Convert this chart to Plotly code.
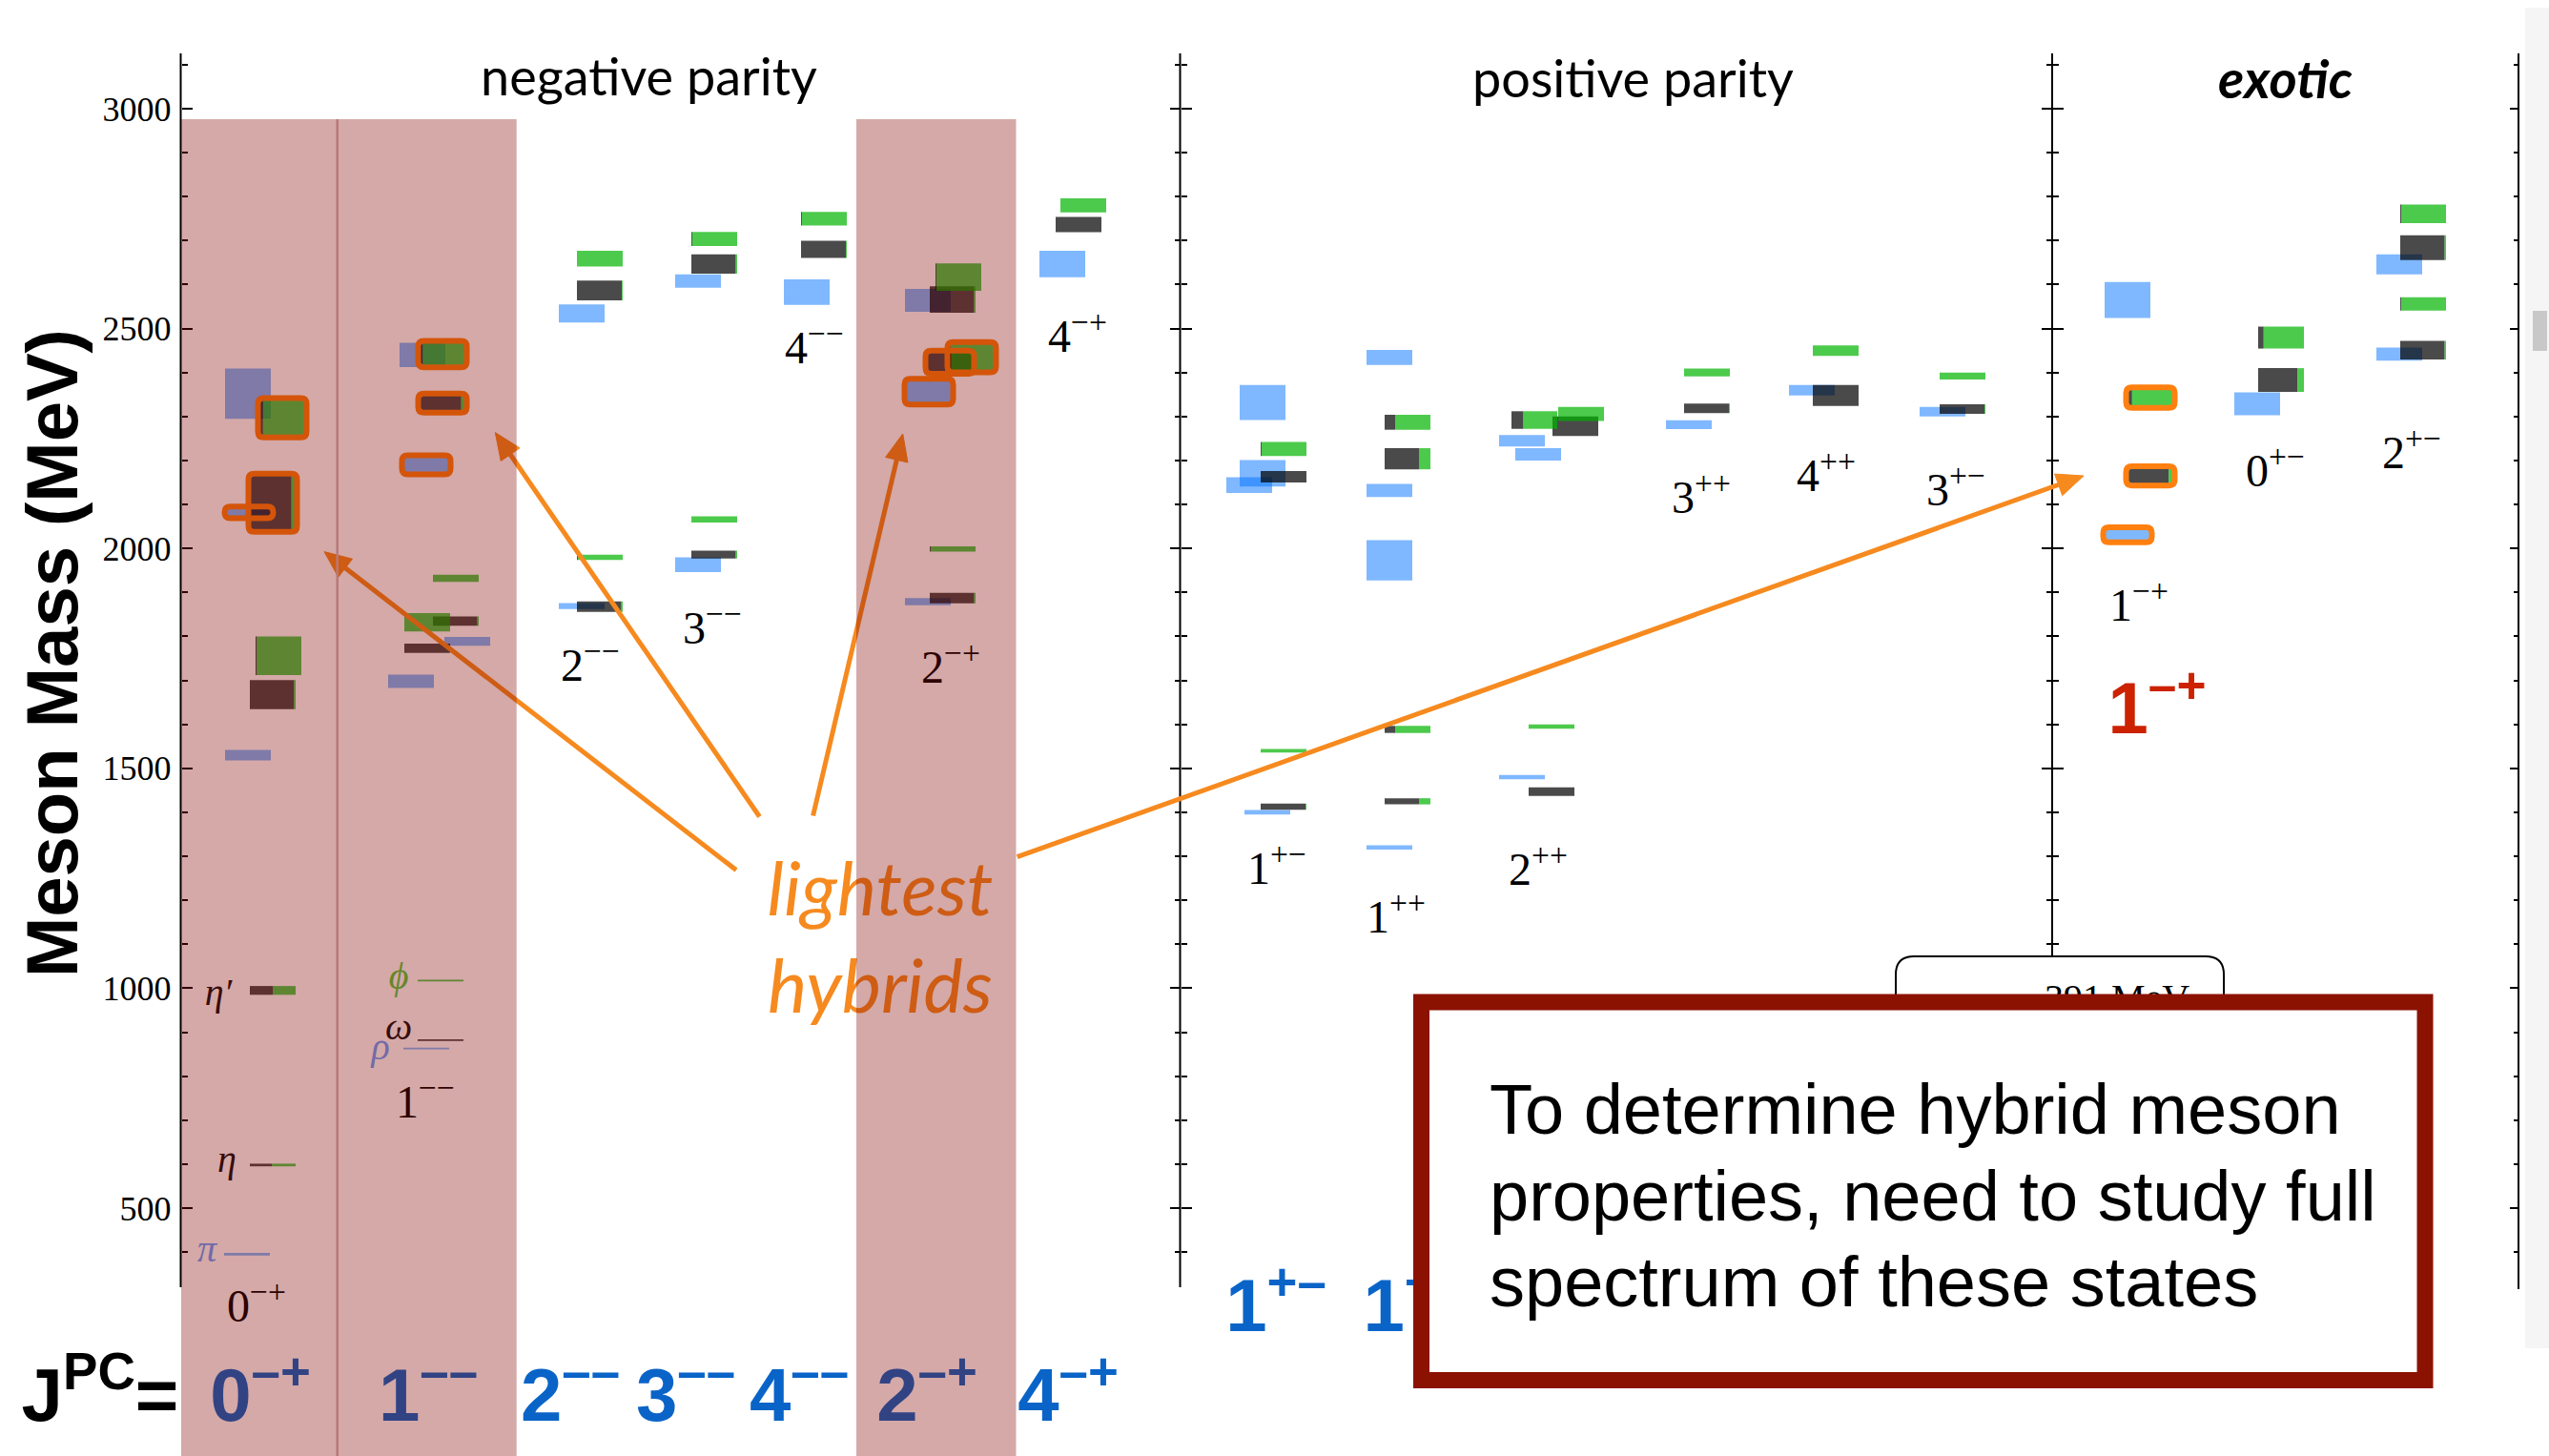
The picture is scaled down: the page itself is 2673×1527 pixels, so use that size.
import plotly.graph_objects as go

W_FIG, H_FIG = 2673, 1527
PX_PER_MEV = 0.4612      # vertical scale of the mass axis (pixels per MeV)
Y_3000 = 114.0           # pixel row of the 3000 MeV tick


def mev(yf):
    """pixel row -> mass-axis units"""
    return 3000.0 - (yf - Y_3000) / PX_PER_MEV


def py(yf):
    """pixel row -> paper fraction"""
    return 1.0 - yf / H_FIG


Y_RANGE = [mev(H_FIG), mev(0)]

# ------------------------------------------------------------------ data
MAJOR_TICKS = [500, 1000, 1500, 2000, 2500, 3000]
MAJOR_LABELS = ["500", "1000", "1500", "2000", "2500", "3000"]
MINOR_TICKS = [400, 600, 700, 800, 900, 1100, 1200, 1300, 1400, 1600, 1700, 1800,
               1900, 2100, 2200, 2300, 2400, 2600, 2700, 2800, 2900, 3100]
EXOTIC_MAJOR = [1500, 2000, 2500, 3000]
EXOTIC_MINOR = [1100, 1200, 1300, 1400, 1600, 1700, 1800, 1900, 2100, 2200, 2300,
                2400, 2600, 2700, 2800, 2900, 3100]

# isovector (light-blue) states: JPC, mass, half-height (MeV), hybrid flag
IV_JPC = ["0-+", "0-+", "0-+", "0-+",
          "1--", "1--", "1--", "1--", "1--",
          "2--", "2--",
          "3--", "3--",
          "4--",
          "2-+", "2-+", "2-+",
          "4-+",
          "1+-", "1+-", "1+-", "1+-",
          "1++", "1++", "1++", "1++",
          "2++", "2++", "2++",
          "3++", "4++", "3+-",
          "1-+", "1-+",
          "0+-",
          "2+-", "2+-"]
IV_MASS = [395, 1530, 2082, 2352,
           863, 1698, 1789, 2190, 2440,
           1869, 2534.5,
           1963, 2608,
           2583,
           1879, 2356.5, 2564,
           2647,
           1400, 2144, 2171, 2332,
           1320, 1973, 2132, 2434.5,
           1480, 2214, 2245,
           2281.5, 2360, 2311,
           2031, 2565,
           2329,
           2442, 2646]
IV_ERR = [3, 12, 10, 57,
          2, 15, 10, 18.5, 27.5,
          7, 20.5,
          17, 15,
          29,
          8, 26, 26,
          30,
          5, 18, 30, 40,
          5, 46, 15, 17,
          5, 14, 13,
          10, 12, 11,
          14, 41,
          26,
          15, 23]
IV_HYBRID = [0, 0, 1, 0,
             0, 0, 0, 1, 0,
             0, 0,
             0, 0,
             0,
             0, 1, 0,
             0,
             0, 0, 0, 0,
             0, 0, 0, 0,
             0, 0, 0,
             0, 0, 0,
             1, 0,
             0,
             0, 0]

# isoscalar states: JPC, mass, half-height, light-quark fraction (rest = strange), hybrid flag
IS_JPC = ["0-+", "0-+", "0-+", "0-+", "0-+", "0-+",
          "1--", "1--", "1--", "1--", "1--", "1--", "1--", "1--",
          "2--", "2--", "2--", "2--",
          "3--", "3--", "3--", "3--",
          "4--", "4--",
          "2-+", "2-+", "2-+", "2-+", "2-+", "2-+",
          "4-+", "4-+",
          "1+-", "1+-", "1+-", "1+-",
          "1++", "1++", "1++", "1++",
          "2++", "2++", "2++", "2++", "2++",
          "3++", "3++",
          "4++", "4++",
          "3+-", "3+-",
          "1-+", "1-+",
          "0+-", "0+-",
          "2+-", "2+-", "2+-", "2+-"]
IS_MASS = [598, 995, 1667.5, 1756, 2104, 2297,
           882, 1017.5, 1773, 1832, 1835, 1932, 2330.5, 2442,
           1867.6, 1980, 2586.5, 2659,
           1986, 2066, 2647, 2704,
           2680, 2750,
           1887, 1999, 2423.5, 2435, 2566, 2617,
           2736.5, 2780,
           1413, 1540, 2163, 2226,
           1425, 1588.5, 2204, 2287,
           1447, 1595, 2292, 2278, 2306,
           2318.6, 2400,
           2348, 2450,
           2317, 2392,
           2165, 2343,
           2383, 2479.5,
           2451, 2556, 2684, 2761]
IS_ERR = [3, 10, 33, 44, 63, 41.5,
          2, 2, 10.5, 21, 10.5, 8, 18.5, 27,
          12, 6, 22.5, 18,
          9, 7, 22, 16,
          19.5, 15.5,
          12, 6, 23, 31, 30, 31,
          17.5, 16,
          7, 4, 13, 16,
          7, 8, 24, 17,
          10, 5, 20, 22, 16,
          11, 9,
          24, 12,
          11, 8,
          18.5, 20,
          27, 25,
          21, 15, 28, 21]
IS_LIGHT = [0.48, 0.51, 0.965, 0.03, 0.91, 0.08,
            1.0, 0.0, 1.0, 0.0, 0.97, 0.0, 0.91, 0.07,
            0.97, 0.02, 0.98, 0.0,
            0.97, 0.0, 0.97, 0.02,
            0.98, 0.02,
            0.97, 0.02, 1.0, 0.05, 0.97, 0.02,
            1.0, 0.0,
            0.98, 0.0, 1.0, 0.02,
            0.76, 0.23, 0.76, 0.23,
            1.0, 0.0, 0.26, 1.0, 0.0,
            0.98, 0.0,
            1.0, 0.0,
            0.98, 0.0,
            0.9, 0.1,
            0.86, 0.12,
            0.97, 0.02, 0.97, 0.03]
IS_HYBRID = [0, 0, 0, 0, 1, 1,
             0, 0, 0, 0, 0, 0, 1, 1,
             0, 0, 0, 0,
             0, 0, 0, 0,
             0, 0,
             0, 0, 1, 1, 0, 0,
             0, 0,
             0, 0, 0, 0,
             0, 0, 0, 0,
             0, 0, 0, 0, 0,
             0, 0,
             0, 0,
             0, 0,
             1, 1,
             0, 0,
             0, 0, 0, 0]

# ------------------------------------------------------------------ layout (positions / styles)
BOX_W = 48
# left edge (px) of the isovector slot and of the isoscalar slot in each JPC column
COL_X = {"0-+": (236, 262), "1--": (423, 440), "2--": (586, 605), "3--": (708, 725),
         "4--": (822, 840), "2-+": (950, 975), "4-+": (1090, 1107),
         "1+-": (1300, 1322), "1++": (1433, 1452), "2++": (1572, 1603),
         "3++": (1747, 1766), "4++": (1876, 1901), "3+-": (2013, 2034),
         "1-+": (2207, 2231), "0+-": (2343, 2368), "2+-": (2492, 2517)}
IV_DX = [-1, 0, 1, 0,
         0, -16, 43, 0, -4,
         0, 0,
         0, 0,
         0,
         -1, 0, -1,
         0,
         5, -14, 0, 0,
         0, 0, 0, 0,
         0, 17, 0,
         0, 0, 0,
         0, 0,
         0,
         0, 0]
IS_DX = [0, 0, 0, 6, 0, 10,
         -2, -2, -16, -16, 14, 14, 0, 0,
         0, 0, 0, 0,
         0, 0, 0, 0,
         0, 0,
         0, 0, -3, 20, 0, 6,
         0, 5,
         0, 0, 0, 0,
         0, 0, 0, 0,
         0, 0, -18, 25, 31,
         0, 0,
         0, 0,
         0, 0,
         0, 0,
         0, 0,
         0, 0, 0, 0]

BLUE = "rgba(0,113,255,0.5)"
BLACK = "rgba(0,0,0,0.71)"
GREEN = "rgba(0,180,0,0.70)"
HYB_LINE = "#ff8010"
ORANGE = "#f68a1f"
LABEL_BLUE = "#0a64c8"
BAND = "rgba(128,4,0,0.34)"

SUB_LABEL_POS = {"0-+": (269, 1374), "1--": (446, 1160), "2--": (619, 702), "3--": (747, 663),
                 "4--": (854, 369), "2-+": (997, 704), "4-+": (1130, 357),
                 "1+-": (1339, 915), "1++": (1464, 966), "2++": (1613, 916),
                 "3++": (1784, 526), "4++": (1915, 503), "3+-": (2051, 518),
                 "1-+": (2243, 639), "0+-": (2386, 498), "2+-": (2529, 479)}
BIG_LABELS_NEG = ["0-+", "1--", "2--", "3--", "4--", "2-+", "4-+"]
BIG_LABEL_X_NEG = [273, 449, 598, 719, 838, 972, 1120]
BIG_LABELS_POS = ["1+-", "1++"]
BIG_LABEL_X_POS = [1338, 1483]


def sup_math(j):
    return j[0] + "<sup>" + j[1:].replace("-", "\u2212") + "</sup>"


def sup_big(j):
    return j[0] + "<sup>" + j[1:].replace("-", "\u2013") + "</sup>"


# ------------------------------------------------------------------ boxes
bx, bw, bb, bh = [], [], [], []
for j, m, e, dx in zip(IV_JPC, IV_MASS, IV_ERR, IV_DX):
    x0 = COL_X[j][0] + dx
    bx.append(x0 + BOX_W / 2); bw.append(BOX_W); bb.append(m - e); bh.append(2 * e)

kx, kw, kb, kh = [], [], [], []
gx, gw, gb, gh = [], [], [], []
for j, m, e, f, dx in zip(IS_JPC, IS_MASS, IS_ERR, IS_LIGHT, IS_DX):
    x0 = COL_X[j][1] + dx
    wl = f * BOX_W
    if wl > 0:
        kx.append(x0 + wl / 2); kw.append(wl); kb.append(m - e); kh.append(2 * e)
    if BOX_W - wl > 0:
        gx.append(x0 + wl + (BOX_W - wl) / 2); gw.append(BOX_W - wl); gb.append(m - e); gh.append(2 * e)

fig = go.Figure()
for xs, ws, bs, hs, col in [(bx, bw, bb, bh, BLUE), (kx, kw, kb, kh, BLACK), (gx, gw, gb, gh, GREEN)]:
    fig.add_trace(go.Bar(x=xs, y=hs, base=bs, width=ws, marker=dict(color=col, line=dict(width=0)),
                         hoverinfo="skip", showlegend=False))


# ------------------------------------------------------------------ text under the band overlay
def text_trace(xs, yfs, texts, family, size, color, weight="normal", style="normal"):
    fig.add_trace(go.Scatter(x=xs, y=[mev(v) for v in yfs], text=texts, mode="text",
                             textposition="middle center",
                             textfont=dict(family=family, size=size, color=color, weight=weight, style=style),
                             hoverinfo="skip", showlegend=False, cliponaxis=False))


sl = list(SUB_LABEL_POS.keys())
text_trace([SUB_LABEL_POS[k][0] for k in sl], [SUB_LABEL_POS[k][1] for k in sl],
           [sup_math(k) for k in sl], "Liberation Serif", 48, "black")

# meson names
text_trace([229, 238, 418], [1044, 1219, 1080], ["<i>\u03b7\u2032</i>", "<i>\u03b7</i>", "<i>\u03c9</i>"],
           "Liberation Serif", 40, "#111111")
text_trace([217, 399], [1313, 1101], ["<i>\u03c0</i>", "<i>\u03c1</i>"], "Liberation Serif", 40, "#6aa2ff")
text_trace([418], [1027], ["<i>\u03d5</i>"], "Liberation Serif", 40, "#55cc40")

# big JPC labels at the bottom
text_trace(BIG_LABEL_X_NEG, [1470] * len(BIG_LABELS_NEG), [sup_big(j) for j in BIG_LABELS_NEG],
           "Liberation Sans", 78, LABEL_BLUE, weight="bold")
text_trace(BIG_LABEL_X_POS, [1376] * len(BIG_LABELS_POS), [sup_big(j) for j in BIG_LABELS_POS],
           "Liberation Sans", 78, LABEL_BLUE, weight="bold")
text_trace([105], [1470], ["J<sup>PC</sup>="], "Liberation Sans", 78, "black", weight="bold")
text_trace([2262], [750], [sup_big("1-+")], "Liberation Sans", 76, "#cc2200", weight="bold")

# lightest hybrids
text_trace([923, 923], [940, 1042], ["lightest", "hybrids"], "Lato", 78, ORANGE, style="italic")
# pion-mass box text (mostly hidden)
text_trace([2220], [1050], ["391 MeV"], "Liberation Serif", 40, "black")

# ------------------------------------------------------------------ axes (ticks)
for k in range(2, 7):
    fig.add_trace(go.Scatter(x=[None], y=[None], yaxis="y%d" % k, showlegend=False, hoverinfo="skip"))


def tick_axis(pos, ticks, majors, minors, side="left", maj_len=11, min_len=6):
    return dict(overlaying="y", anchor="free", position=pos, side=side, range=Y_RANGE, autorange=False,
                showgrid=False, zeroline=False, showline=False, ticks=ticks, tickmode="array",
                tickvals=majors, ticklen=maj_len, tickwidth=2, tickcolor="black", showticklabels=False,
                minor=dict(ticks=ticks, tickmode="array", tickvals=minors, ticklen=min_len, tickwidth=2,
                           tickcolor="black", showgrid=False))


AX_LEFT, AX_POS, AX_EXO, AX_RIGHT = 189.5, 1237.5, 2152, 2641

fig.update_layout(
    width=W_FIG, height=H_FIG, margin=dict(l=0, r=0, t=0, b=0),
    paper_bgcolor="white", plot_bgcolor="rgba(0,0,0,0)", barmode="overlay", showlegend=False,
    xaxis=dict(range=[0, W_FIG], autorange=False, visible=False, domain=[0, 1]),
    yaxis=dict(range=Y_RANGE, autorange=False, domain=[0, 1], anchor="free", position=AX_LEFT / W_FIG,
               showgrid=False, zeroline=False, showline=False, ticks="inside", tickmode="array",
               tickvals=MAJOR_TICKS, ticktext=MAJOR_LABELS, ticklen=11, tickwidth=2, tickcolor="black",
               ticklabelstandoff=10,
               tickfont=dict(family="Liberation Serif", size=36, color="black"),
               minor=dict(ticks="inside", tickmode="array", tickvals=MINOR_TICKS, ticklen=6, tickwidth=2,
                          tickcolor="black", showgrid=False)),
    yaxis2=tick_axis(AX_POS / W_FIG, "outside", MAJOR_TICKS, MINOR_TICKS),
    yaxis3=tick_axis(AX_POS / W_FIG, "inside", MAJOR_TICKS, MINOR_TICKS),
    yaxis4=tick_axis(AX_EXO / W_FIG, "outside", EXOTIC_MAJOR, EXOTIC_MINOR),
    yaxis5=tick_axis(AX_EXO / W_FIG, "inside", EXOTIC_MAJOR, EXOTIC_MINOR),
    yaxis6=tick_axis(AX_RIGHT / W_FIG, "inside", MAJOR_TICKS, MINOR_TICKS, side="right", maj_len=9, min_len=5),
)

# ------------------------------------------------------------------ shapes
shapes = []
# faint window scrollbar at the right edge
shapes.append(dict(type="rect", xref="x", yref="paper", x0=2648, x1=2673, y0=py(1414), y1=py(8),
                   fillcolor="#f5f5f5", line=dict(width=0), layer="below"))
shapes.append(dict(type="rect", xref="x", yref="paper", x0=2656, x1=2671, y0=py(368), y1=py(326),
                   fillcolor="#c8c8c8", line=dict(width=0), layer="below"))

# axis lines
for xa, y_end in [(AX_LEFT, 1350), (AX_POS, 1350), (AX_EXO, 1003), (AX_RIGHT, 1352)]:
    shapes.append(dict(type="line", xref="x", yref="paper", x0=xa, x1=xa, y0=py(56), y1=py(y_end),
                       line=dict(color="black", width=2), layer="above"))


def rrect(x0, x1, y0, y1, rx, ry):
    return (f"M{x0 + rx},{y0} L{x1 - rx},{y0} Q{x1},{y0} {x1},{y0 + ry} L{x1},{y1 - ry} "
            f"Q{x1},{y1} {x1 - rx},{y1} L{x0 + rx},{y1} Q{x0},{y1} {x0},{y1 - ry} "
            f"L{x0},{y0 + ry} Q{x0},{y0} {x0 + rx},{y0} Z")


PAD_X, PAD_Y = 1.5, 1.5 / PX_PER_MEV
RX, RY = 6, 6 / PX_PER_MEV
for j, m, e, h, dx in zip(IV_JPC, IV_MASS, IV_ERR, IV_HYBRID, IV_DX):
    if h:
        x0 = COL_X[j][0] + dx
        shapes.append(dict(type="path", xref="x", yref="y", layer="above",
                           path=rrect(x0 - PAD_X, x0 + BOX_W + PAD_X, m - e - PAD_Y, m + e + PAD_Y, RX, RY),
                           line=dict(color=HYB_LINE, width=6)))
for j, m, e, h, dx in zip(IS_JPC, IS_MASS, IS_ERR, IS_HYBRID, IS_DX):
    if h:
        x0 = COL_X[j][1] + dx
        shapes.append(dict(type="path", xref="x", yref="y", layer="above",
                           path=rrect(x0 - PAD_X, x0 + BOX_W + PAD_X, m - e - PAD_Y, m + e + PAD_Y, RX, RY),
                           line=dict(color=HYB_LINE, width=6)))

# arrows from the "lightest hybrids" label (pixel start -> pixel tip)
ARROWS = [((772, 912.5), (340, 578.6)), ((796.5, 856.5), (519.3, 453.6)),
          ((852.6, 855.5), (946.7, 455.0)), ((1066.7, 898.7), (2185.0, 499.0))]
HEAD_LEN, HEAD_HALF = 28, 12
for (sx, sy), (tx, ty) in ARROWS:
    dxp, dyp = tx - sx, ty - sy
    L = (dxp ** 2 + dyp ** 2) ** 0.5
    ux, uy = dxp / L, dyp / L
    bxp, byp = tx - ux * HEAD_LEN, ty - uy * HEAD_LEN
    nx, ny = -uy, ux
    shapes.append(dict(type="line", xref="x", yref="y", x0=sx, y0=mev(sy), x1=bxp + ux * 2, y1=mev(byp + uy * 2),
                       line=dict(color=ORANGE, width=5), layer="above"))
    c1 = (bxp + nx * HEAD_HALF, byp + ny * HEAD_HALF)
    c2 = (bxp - nx * HEAD_HALF, byp - ny * HEAD_HALF)
    shapes.append(dict(type="path", xref="x", yref="y", layer="above",
                       path=f"M{tx},{mev(ty)} L{c1[0]},{mev(c1[1])} L{c2[0]},{mev(c2[1])} Z",
                       fillcolor=ORANGE, line=dict(color=ORANGE, width=1)))

# divider inside first band
shapes.append(dict(type="line", xref="x", yref="paper", x0=353.7, x1=353.7, y0=py(125), y1=0,
                   line=dict(color="#d5b7b6", width=2.5), layer="above"))
# translucent bands marking hybrid-bearing columns
for x0, x1 in [(190, 541.7), (898, 1065.5)]:
    shapes.append(dict(type="rect", xref="x", yref="paper", x0=x0, x1=x1, y0=0, y1=py(125),
                       fillcolor=BAND, line=dict(width=0), layer="above"))

# pion-mass tag box (mostly hidden)
rb = 19
x0r, x1r, y0r, y1r = 1988, 2332, py(1200), py(1003)
shapes.append(dict(type="path", xref="x", yref="paper", layer="above",
                   path=rrect(x0r, x1r, y0r, y1r, rb, rb / H_FIG),
                   fillcolor="rgba(255,255,255,0)", line=dict(color="black", width=2)))
# red message box
shapes.append(dict(type="rect", xref="x", yref="paper", x0=1490.5, x1=2543, y0=py(1447.5), y1=py(1051),
                   fillcolor="white", line=dict(color="#8b1200", width=17), layer="above"))
fig.update_layout(shapes=shapes)

# ------------------------------------------------------------------ annotations
ann = []
ann.append(dict(x=680, y=py(79), xref="x", yref="paper", text="negative parity", showarrow=False,
                xanchor="center", yanchor="middle", font=dict(family="Lato", size=54, color="black")))
ann.append(dict(x=1712, y=py(81), xref="x", yref="paper", text="positive parity", showarrow=False,
                xanchor="center", yanchor="middle", font=dict(family="Lato", size=54, color="black")))
ann.append(dict(x=2396, y=py(81), xref="x", yref="paper", text="exotic", showarrow=False,
                xanchor="center", yanchor="middle",
                font=dict(family="Lato", size=56, color="black", weight="bold", style="italic")))
ann.append(dict(x=54, y=py(685), xref="x", yref="paper", text="Meson Mass (MeV)", showarrow=False,
                xanchor="center", yanchor="middle",
                textangle=-90, font=dict(family="Liberation Sans", size=76, color="black", weight="bold")))
for txt, yc in [("To determine hybrid meson", 1163), ("properties, need to study full", 1254),
                ("spectrum of these states", 1344)]:
    ann.append(dict(x=1560, y=py(yc), xref="x", yref="paper", text=txt, showarrow=False, xanchor="left",
                    yanchor="middle", font=dict(family="Liberation Sans", size=74, color="black")))
fig.update_layout(annotations=ann)

fig.write_html("out.html")
